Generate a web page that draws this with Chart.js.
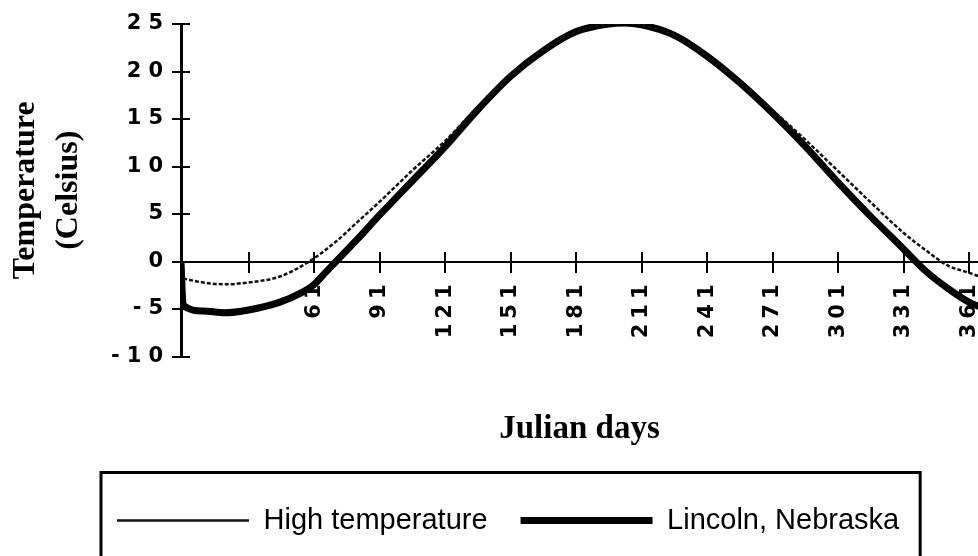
<!DOCTYPE html>
<html><head><meta charset="utf-8">
<script src="https://cdn.jsdelivr.net/npm/chart.js@4.4.1/dist/chart.umd.min.js"></script>
<style>html,body{margin:0;padding:0;background:#fff;}canvas{display:block;}</style>
</head><body>
<canvas id="c" width="978" height="556"></canvas>
<script>
// ---- data ----
const seriesNames = ["High temperature", "Lincoln, Nebraska"];
const highDays = [1, 10, 20, 31, 45, 58, 71, 81, 91, 106, 121, 136, 151, 166, 181, 196, 203, 211, 226, 241, 256, 271, 286, 301, 316, 331, 341, 351, 361, 366];
const highTemp = [-1.8, -2.2, -2.4, -2.2, -1.6, -0.1, 2.1, 4.2, 6.3, 9.6, 12.7, 16.3, 19.6, 22.3, 24.2, 25.0, 25.1, 24.9, 23.8, 21.6, 18.9, 15.9, 12.8, 9.5, 6.2, 3.0, 1.2, -0.4, -1.2, -1.6];
const lincolnDays = [0, 1, 10, 20, 31, 45, 55, 61, 66, 71, 81, 91, 106, 121, 136, 151, 166, 181, 196, 203, 211, 226, 241, 256, 271, 286, 301, 316, 331, 341, 351, 361, 366];
const lincolnTemp = [0, -4.6, -5.2, -5.4, -5.1, -4.3, -3.3, -2.4, -1.2, 0.0, 2.4, 4.9, 8.5, 12.1, 16.0, 19.5, 22.2, 24.2, 25.0, 25.1, 24.9, 23.8, 21.6, 18.8, 15.6, 12.1, 8.3, 4.7, 1.3, -1.0, -2.8, -4.3, -4.8];
const xTickDays = [31, 61, 91, 121, 151, 181, 211, 241, 271, 301, 331, 361];
const xTickLabels = ["", "61", "91", "121", "151", "181", "211", "241", "271", "301", "331", "361"];
const yTicks = [-10, -5, 0, 5, 10, 15, 20, 25];
const xTitle = "Julian days";
const yTitle = ["Temperature", "(Celsius)"];

const toPts = (xs, ys) => xs.map((x, i) => ({x: x, y: ys[i]}));
const setTicks = (vals) => (scale) => { scale.ticks = vals.map(v => ({value: v})); };
const tickFont = {family: 'DejaVu Sans', weight: 'bold', size: 21};

const letterSpacingPlugin = {
  id: 'tickLetterSpacing',
  beforeDraw(chart) {
    [['x', '5px'], ['y', '7px']].forEach(([id, ls]) => {
      const s = chart.scales[id];
      if (s && !s._lsPatched) {
        const orig = s.drawLabels;
        s.drawLabels = function (area) {
          const c = this.ctx; c.save(); c.letterSpacing = ls; orig.call(this, area); c.restore();
        };
        s._lsPatched = true;
      }
    });
  }
};
const legendPlacePlugin = {
  id: 'legendPlace',
  afterLayout(chart) { if (chart.legend) chart.legend.left = 84; },
  afterDraw(chart) {
    const L = chart.legend; if (!L || !L.legendHitBoxes || !L.legendHitBoxes.length) return;
    const hb = L.legendHitBoxes; const last = hb[hb.length - 1];
    const left = hb[0].left - 16, right = last.left + last.width + 21;
    const ctx = chart.ctx; ctx.save(); ctx.strokeStyle = '#000'; ctx.lineWidth = 3;
    ctx.strokeRect(left, L.top - 0.5, right - left, 200); ctx.restore();
  }
};

new Chart(document.getElementById('c'), {
  type: 'line',
  data: {
    datasets: [
      {label: seriesNames[0], data: toPts(highDays, highTemp), borderColor: '#111', borderWidth: 2.5,
       borderDash: [4, 2], pointRadius: 0, cubicInterpolationMode: 'monotone', fill: false},
      {label: seriesNames[1], data: toPts(lincolnDays, lincolnTemp), borderColor: '#000', borderWidth: 7,
       pointRadius: 0, cubicInterpolationMode: 'monotone', fill: false}
    ]
  },
  options: {
    responsive: false, animation: false, devicePixelRatio: 1,
    layout: {padding: {top: 24, left: 0, right: 0, bottom: 11}},
    plugins: {
      tooltip: {enabled: false},
      legend: {
        position: 'bottom', align: 'start',
        labels: {usePointStyle: true, pointStyle: 'line', pointStyleWidth: 132, padding: 33, color: '#000',
                 font: {family: 'Liberation Sans', size: 29}}
      }
    },
    scales: {
      x: {
        type: 'linear', position: {y: 0}, min: 0, max: 365,
        afterBuildTicks: setTicks(xTickDays),
        afterFit: (s) => { s.height = 0; s.paddingLeft = 0; s.paddingRight = 0; },
        ticks: {autoSkip: false, maxRotation: 90, minRotation: 90, padding: 8, color: '#000', font: tickFont,
                callback: (v, i) => xTickLabels[i]},
        grid: {drawOnChartArea: false, drawTicks: true, tickLength: 10, color: '#000', lineWidth: 2},
        border: {display: true, color: '#000', width: 2}
      },
      xc: {
        type: 'linear', position: {y: 0}, min: 0, max: 365,
        afterBuildTicks: setTicks(xTickDays),
        afterFit: (s) => { s.height = 0; s.paddingLeft = 0; s.paddingRight = 0; },
        ticks: {display: false},
        grid: {drawOnChartArea: false, drawTicks: true, tickLength: -10, color: '#000', lineWidth: 2},
        border: {display: false}
      },
      x2: {
        type: 'linear', position: 'bottom', min: 0, max: 365,
        afterFit: (s) => { s.height = 116.5; },
        ticks: {display: false}, grid: {display: false}, border: {display: false},
        title: {display: true, text: xTitle, color: '#000', padding: {top: 0, bottom: 24},
                font: {family: 'Liberation Serif', weight: 'bold', size: 33}}
      },
      y: {
        type: 'linear', position: 'left', min: -10, max: 25,
        afterBuildTicks: setTicks(yTicks),
        afterFit: (s) => { s.width = 181; s.paddingTop = 0; s.paddingBottom = 0; },
        ticks: {padding: 2, color: '#000', font: tickFont, callback: (v) => String(v)},
        grid: {drawOnChartArea: false, drawTicks: true, tickLength: 9, color: '#000', lineWidth: 2},
        border: {display: true, color: '#000', width: 3},
        title: {display: true, text: yTitle, color: '#000', padding: {top: 4, bottom: 0},
                font: {family: 'Liberation Serif', weight: 'bold', size: 32, lineHeight: 1.35}}
      },
      yc: {
        type: 'linear', position: {x: 0}, min: -10, max: 25,
        afterBuildTicks: setTicks(yTicks),
        afterFit: (s) => { s.width = 0; s.paddingTop = 0; s.paddingBottom = 0; },
        ticks: {display: false},
        grid: {drawOnChartArea: false, drawTicks: true, tickLength: -9, color: '#000', lineWidth: 2},
        border: {display: false}
      }
    }
  },
  plugins: [letterSpacingPlugin, legendPlacePlugin]
});
</script>
</body></html>
